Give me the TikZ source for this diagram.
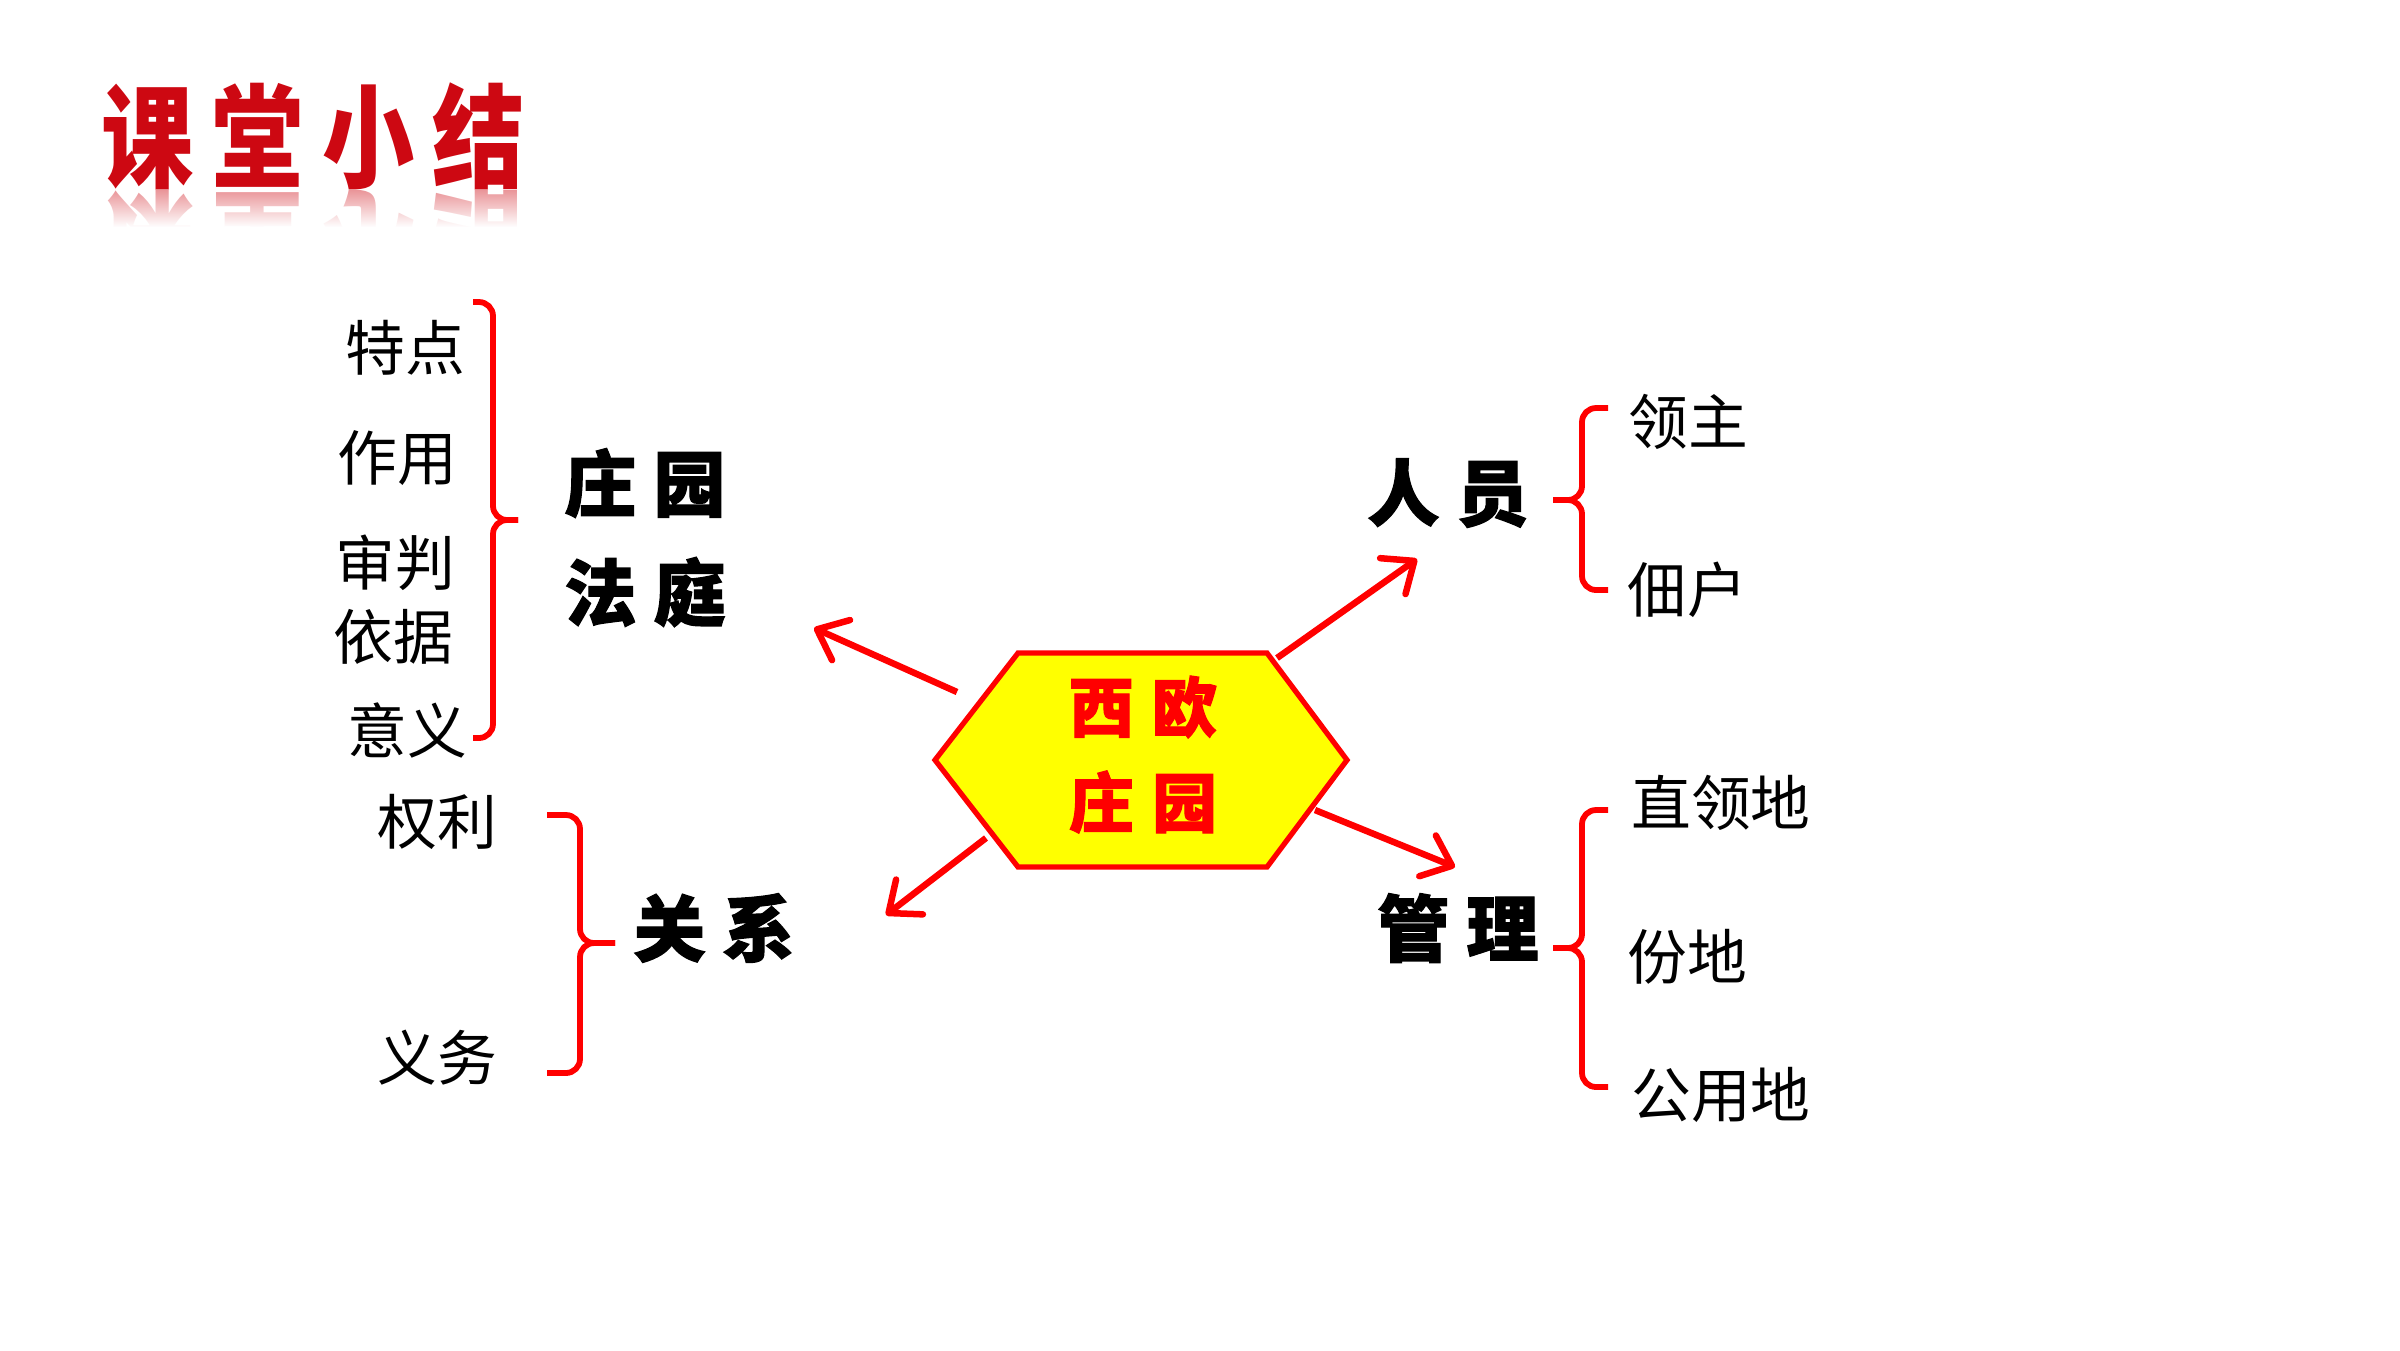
\documentclass[tikz,border=0pt]{standalone}
\usepackage{fontspec}
\setmainfont{Noto Sans CJK SC}
\newfontfamily\heavyfont[FakeBold=1.6]{Noto Sans CJK SC}
\usetikzlibrary{arrows.meta,fadings}
\tikzfading[name=fadeup, top color=transparent!100, bottom color=transparent!0]
\definecolor{titlered}{RGB}{205,8,18}
\definecolor{hexyellow}{RGB}{255,255,0}
\definecolor{pured}{RGB}{255,0,0}
\begin{document}
\begin{tikzpicture}[x=0.01cm,y=-0.01cm,
  lab/.style={inner sep=0pt, text=black, font=\fontsize{17}{17}\selectfont},
  blab/.style={inner sep=0pt, text=black, font=\fontsize{20.5}{20.5}\heavyfont\bfseries},
  hexlab/.style={inner sep=0pt, text=pured, font=\fontsize{18.5}{18.5}\heavyfont\bfseries},
  titlelab/.style={inner sep=0pt, transform shape, font=\fontsize{32}{32}\selectfont\bfseries},
  bracket/.style={draw=pured, line width=1.65pt, rounded corners=4pt},
  arr/.style={draw=pured, line width=1.85pt, -{Straight Barb[length=7.5pt,width=12.5pt,round]}},
  hexshape/.style={draw=pured, fill=hexyellow, line width=1.5pt, line join=miter}]
\useasboundingbox (0,0) rectangle (2400,1350);

% title
\begin{scope}[shift={(313,136)}, xscale=0.82]
  \node[titlelab, text=titlered] (title) at (0,0) {课\hspace{0.22cm}堂\hspace{0.22cm}小\hspace{0.22cm}结};
\end{scope}
\begin{scope}
  \clip (80,189) rectangle (560,226);
  \begin{scope}[shift={(313,244)}, xscale=0.82, yscale=-1]
    \node[titlelab, text=titlered!45] (titlerefl) at (0,0) {课\hspace{0.22cm}堂\hspace{0.22cm}小\hspace{0.22cm}结};
  \end{scope}
\end{scope}
\fill[white, path fading=fadeup] (80,188) rectangle (560,227);

% central hexagon
\draw[hexshape] (935,760) -- (1018,653) -- (1267,653) -- (1347,760) -- (1267,867) -- (1018,867) -- cycle;
\node[hexlab] (hx1) at (1143,707) {西\hspace{0.18cm}欧};
\node[hexlab] (hx2) at (1143,802) {庄\hspace{0.18cm}园};

% arrows
\coordinate (a1s) at (957,692);  \coordinate (a1e) at (814,628);
\coordinate (a2s) at (986,838);  \coordinate (a2e) at (886,915);
\coordinate (a3s) at (1277,658); \coordinate (a3e) at (1417,559);
\coordinate (a4s) at (1315,810); \coordinate (a4e) at (1455,867);
\draw[arr] (a1s) -- (a1e);
\draw[arr] (a2s) -- (a2e);
\draw[arr] (a3s) -- (a3e);
\draw[arr] (a4s) -- (a4e);

% category labels
\node[blab] (zyft1) at (645,483) {庄\hspace{0.17cm}园};
\node[blab] (zyft2) at (645,592) {法\hspace{0.17cm}庭};
\node[blab] (gx) at (714,928) {关\hspace{0.17cm}系};
\node[blab] (ry) at (1448,493) {人\hspace{0.17cm}员};
\node[blab] (gl) at (1458,928) {管\hspace{0.17cm}理};

% left group 1
\node[lab] (td) at (405,348) {特点};
\node[lab] (zy) at (397,458) {作用};
\node[lab] (sp) at (395,563) {审判};
\node[lab] (yj) at (393,637) {依据};
\node[lab] (yy) at (407,730) {意义};
\draw[bracket] (473,302) -- (493,302) -- (493,520) -- (518,520);
\draw[bracket] (518,520) -- (493,520) -- (493,738) -- (473,738);

% left group 2
\node[lab] (ql) at (437,822) {权利};
\node[lab] (yw) at (437,1058) {义务};
\draw[bracket] (547,815) -- (580,815) -- (580,943) -- (615,943);
\draw[bracket] (615,943) -- (580,943) -- (580,1073) -- (547,1073);

% right group 1
\node[lab] (lz) at (1688,422) {领主};
\node[lab] (dh) at (1687,590) {佃户};
\draw[bracket] (1608,408) -- (1582,408) -- (1582,500) -- (1553,500);
\draw[bracket] (1553,500) -- (1582,500) -- (1582,590) -- (1608,590);

% right group 2
\node[lab] (zld) at (1721,803) {直领地};
\node[lab] (fd) at (1687,957) {份地};
\node[lab] (gyd) at (1721,1095) {公用地};
\draw[bracket] (1608,810) -- (1582,810) -- (1582,948) -- (1553,948);
\draw[bracket] (1553,948) -- (1582,948) -- (1582,1087) -- (1608,1087);
\end{tikzpicture}
\end{document}
